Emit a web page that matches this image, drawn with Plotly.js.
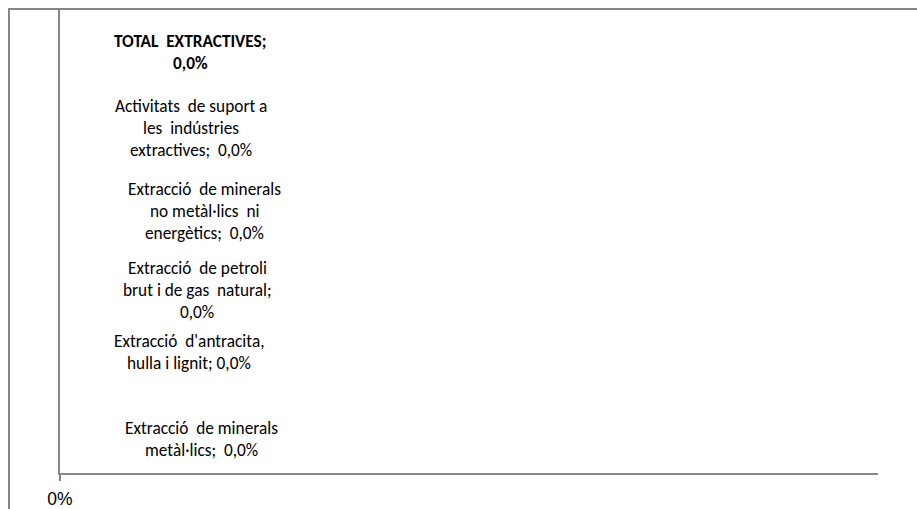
<!DOCTYPE html>
<html>
<head>
<meta charset="utf-8">
<script src="https://cdn.plot.ly/plotly-3.0.1.min.js"></script>
<style>
  html, body { margin: 0; padding: 0; background: #fff; }
  #chart { width: 917px; height: 509px; }
</style>
</head>
<body>
<div id="chart"></div>
<script>
// ---- data (bottom to top) ----
var categories = [
  "Extracció de minerals metàl·lics",
  "Extracció d'antracita, hulla i lignit",
  "Extracció de petroli brut i de gas natural",
  "Extracció de minerals no metàl·lics ni energètics",
  "Activitats de suport a les indústries extractives",
  "TOTAL EXTRACTIVES"
];
var values = [0, 0, 0, 0, 0, 0];
var labelLines = [
  ["Extracció  de minerals", "metàl·lics;  0,0%"],
  ["Extracció  d'antracita,", "hulla i lignit; 0,0%"],
  ["Extracció  de petroli", "brut i de gas  natural;", "0,0%"],
  ["Extracció  de minerals", "no metàl·lics  ni", "energètics;  0,0%"],
  ["Activitats  de suport a", "les  indústries", "extractives;  0,0%"],
  ["TOTAL  EXTRACTIVES;", "0,0%"]
];
var boldLabel = [false, false, false, false, false, true];
var xTickVals = [0];

// ---- style ----
var labelFont = "Carlito, 'Liberation Sans Narrow', 'Liberation Sans', sans-serif";
var axisGray = "#878787";
var labelXShift = [141, 129, 137, 144, 131, 130];
var labelYShift = [-5, 5, -10, -9, -3, -4];
var lineH = 22;
var boldLineH = 22;

var annotations = [];
for (var i = 0; i < categories.length; i++) {
  var lines = labelLines[i];
  var n = lines.length;
  for (var j = 0; j < n; j++) {
    annotations.push({
      x: values[i], y: categories[i], xref: 'x', yref: 'y',
      text: boldLabel[i] ? '<b>' + lines[j] + '</b>' : lines[j],
      showarrow: false,
      xanchor: 'center', yanchor: 'middle', align: 'center',
      xshift: labelXShift[i],
      yshift: labelYShift[i] - (j - (n - 1) / 2) * (boldLabel[i] ? boldLineH : lineH),
      font: { family: labelFont, size: 17.3, color: '#000' }
    });
  }
}

var trace = {
  type: 'bar', orientation: 'h',
  x: values, y: categories,
  marker: { color: '#4f81bd' },
  hoverinfo: 'skip'
};

var layout = {
  width: 917, height: 509,
  margin: { l: 60, r: 39, t: 10, b: 36, pad: 0 },
  paper_bgcolor: '#fff', plot_bgcolor: '#fff',
  showlegend: false,
  xaxis: {
    range: [0, 1], tickvals: xTickVals, tickformat: '.0%',
    showgrid: false, zeroline: false,
    showline: true, linecolor: axisGray, linewidth: 2,
    ticks: 'outside', ticklen: 6, tickcolor: axisGray, tickwidth: 2,
    ticklabelstandoff: 3,
    tickfont: { family: "'Liberation Sans', Arial, sans-serif", size: 17.5, color: '#000' }
  },
  yaxis: {
    type: 'category', categoryarray: categories, categoryorder: 'array',
    showticklabels: false, ticks: '', showgrid: false, zeroline: false,
    showline: true, linecolor: axisGray, linewidth: 2
  },
  annotations: annotations,
  shapes: [{
    type: 'rect', xref: 'paper', yref: 'paper',
    x0: (9 - 60) / 818, x1: 1.2, y0: -0.3, y1: (473 - 9) / 463,
    line: { color: axisGray, width: 2 }, fillcolor: 'rgba(0,0,0,0)', layer: 'below'
  }]
};

Plotly.newPlot('chart', [trace], layout, { displayModeBar: false, staticPlot: true });
</script>
</body>
</html>
